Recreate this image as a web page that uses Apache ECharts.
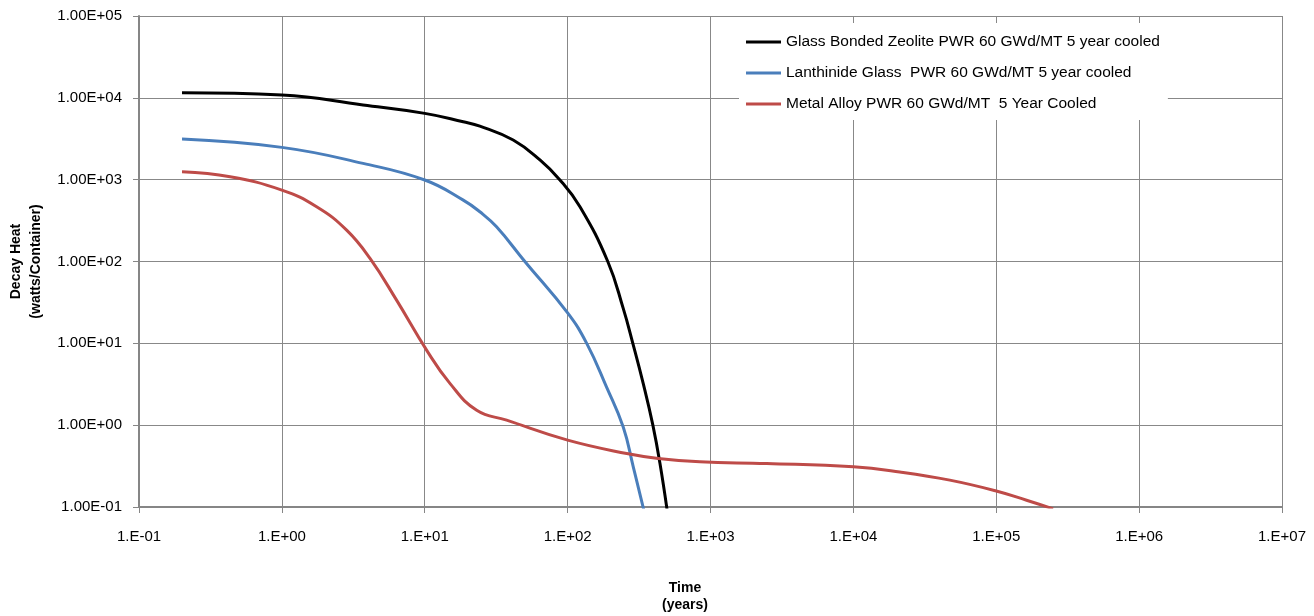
<!DOCTYPE html>
<html>
<head>
<meta charset="utf-8">
<script src="https://cdn.jsdelivr.net/npm/echarts@6/dist/echarts.min.js"></script>
<style>html,body{margin:0;padding:0;background:#fff}#c{width:1314px;height:616px}</style>
</head>
<body>
<div id="c"></div>
<script>
const seriesNames = [
  'Glass Bonded Zeolite PWR 60 GWd/MT 5 year cooled',
  'Lanthinide Glass  PWR 60 GWd/MT 5 year cooled',
  'Metal Alloy PWR 60 GWd/MT  5 Year Cooled'
];
const zeoliteX = [0.2, 1, 3.7, 10, 18.6, 24.3, 41.6, 64, 88, 122, 191, 245, 286, 338, 395, 443, 500];
const zeoliteY = [11500, 10800, 8170, 6460, 5100, 4520, 3050, 1740, 1000, 466, 100, 26.7, 10, 3.24, 1, 0.34, 0.085];
const glassX = [0.2, 1, 3.7, 10, 18.6, 24.3, 31.8, 50.2, 100, 136, 187, 245, 288, 345];
const glassY = [3135, 2480, 1580, 990, 563, 405, 265, 100, 23.5, 10, 2.94, 0.95, 0.31, 0.085];
const metalX = [0.2, 0.434, 1, 1.75, 2.84, 4.14, 6.35, 10.3, 15, 23.1, 37.4, 100, 259, 431, 843, 2470, 10000, 21100, 47300, 100000, 163000, 250000];
const metalY = [1250, 1086, 746, 467, 242, 109, 33.7, 8.26, 3.24, 1.52, 1.15, 0.656, 0.45, 0.392, 0.356, 0.34, 0.31, 0.268, 0.213, 0.157, 0.121, 0.095];
const xTickLabels = ['1.E-01','1.E+00','1.E+01','1.E+02','1.E+03','1.E+04','1.E+05','1.E+06','1.E+07'];
const yTickLabels = ['1.00E-01','1.00E+00','1.00E+01','1.00E+02','1.00E+03','1.00E+04','1.00E+05'];
const colors = ['#000000', '#4a7ebb', '#be4b48'];

const FONT = 'Liberation Sans';
function pairs(xs, ys){ return xs.map((x,i)=>[x, ys[i]]); }
function lbl(arr, minExp){ return v => { const i = Math.round(Math.log10(v)) - minExp; return arr[i] !== undefined ? arr[i] : ''; }; }

const chart = echarts.init(document.getElementById('c'), null, {renderer:'canvas'});
const gridColor = '#888888';
function lineSeries(i, xs, ys){
  return {name: seriesNames[i], type: 'line', data: pairs(xs, ys), smooth: 0.45, showSymbol: false, symbol: 'none', clip: true,
    lineStyle: {color: colors[i], width: 3}, itemStyle: {color: colors[i]}};
}
chart.setOption({
  animation: false,
  backgroundColor: '#ffffff',
  textStyle: {fontFamily: FONT},
  grid: {left: 139, right: 32, top: 16, bottom: 109, containLabel: false, outerBoundsMode: 'none'},
  xAxis: {
    type: 'log', logBase: 10, min: 0.1, max: 1e7,
    axisLine: {show: true, onZero: false, lineStyle: {color: '#868686', width: 2}},
    axisTick: {show: true, length: 6, lineStyle: {color: '#868686', width: 1}},
    axisLabel: {margin: 22, fontSize: 15, color: '#000', fontFamily: FONT, formatter: lbl(xTickLabels, -1)},
    splitLine: {show: true, lineStyle: {color: gridColor, width: 1}},
    minorTick: {show: false}
  },
  yAxis: {
    type: 'log', logBase: 10, min: 0.1, max: 1e5,
    axisLine: {show: true, onZero: false, lineStyle: {color: '#868686', width: 2}},
    axisTick: {show: true, length: 6, lineStyle: {color: '#868686', width: 1}},
    axisLabel: {margin: 17, fontSize: 15, color: '#000', fontFamily: FONT, formatter: lbl(yTickLabels, -1)},
    splitLine: {show: true, lineStyle: {color: gridColor, width: 1}},
    name: 'Decay Heat\n(watts/Container)',
    nameLocation: 'middle', nameRotate: 90, nameGap: 93,
    nameTextStyle: {fontSize: 14, fontWeight: 'bold', color: '#000', lineHeight: 20, fontFamily: FONT}
  },
  legend: {
    orient: 'vertical', left: 739, top: 23,
    padding: [11, 8, 8, 7],
    backgroundColor: '#ffffff',
    itemWidth: 35, itemHeight: 3, itemGap: 15,
    icon: 'rect',
    textStyle: {fontSize: 15.5, color: '#000', lineHeight: 16, fontFamily: FONT},
    data: seriesNames
  },
  graphic: [{
    type: 'text', x: 685, y: 597, z: 100,
    style: {text: 'Time\n(years)', align: 'center', verticalAlign: 'middle',
      font: 'bold 14px ' + FONT, fill: '#000', lineHeight: 17}
  }],
  series: [
    lineSeries(0, zeoliteX, zeoliteY),
    lineSeries(1, glassX, glassY),
    lineSeries(2, metalX, metalY)
  ]
});
</script>
</body>
</html>
